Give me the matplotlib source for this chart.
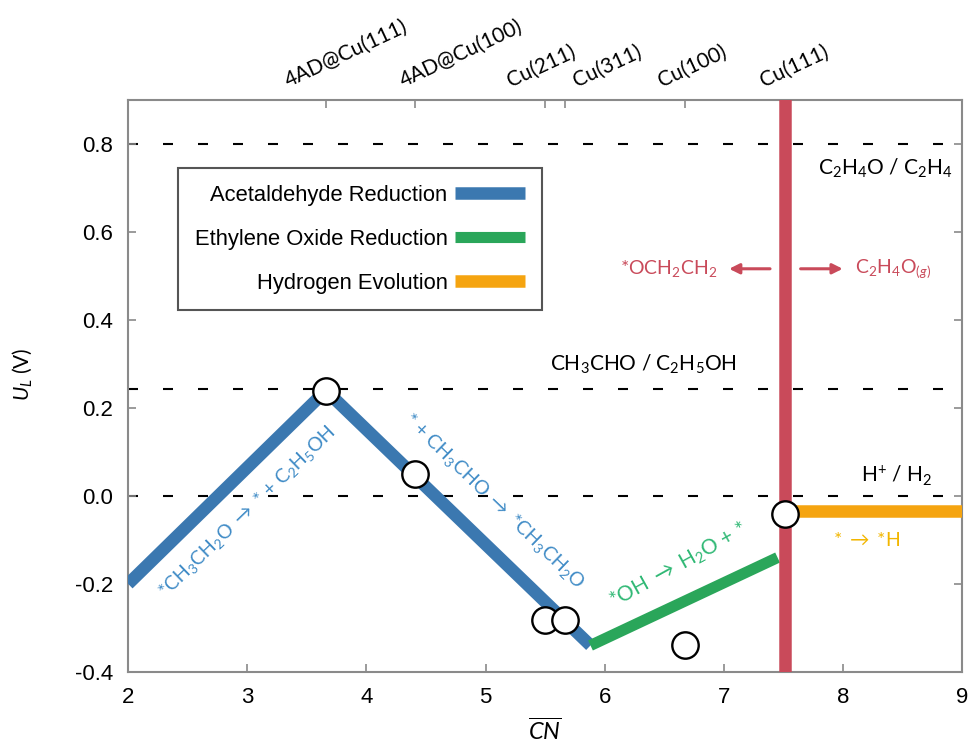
import matplotlib
matplotlib.use("Agg")
import matplotlib.pyplot as plt
from matplotlib.ticker import FormatStrFormatter

plt.rcParams["mathtext.fontset"] = "custom"
plt.rcParams["mathtext.rm"] = "Lato"
plt.rcParams["mathtext.it"] = "Lato:italic"
plt.rcParams["mathtext.bf"] = "Lato:bold"
plt.rcParams["mathtext.fallback"] = "stixsans"

# generalized coordination number of each surface and its limiting potential
surface_names = ["4AD@Cu(111)", "4AD@Cu(100)", "Cu(211)", "Cu(311)", "Cu(100)", "Cu(111)"]
surface_cn = [3.66, 4.41, 5.50, 5.67, 6.67, 7.51]
surface_ul = [0.24, 0.05, -0.283, -0.283, -0.34, -0.04]

# volcano branches
acetaldehyde_cn = [2.0, 3.66, 5.88]
acetaldehyde_ul = [-0.20, 0.24, -0.34]
oxide_cn = [5.88, 7.45]
oxide_ul = [-0.34, -0.14]
hydrogen_cn = [7.51, 9.0]
hydrogen_ul = [-0.035, -0.035]
oxide_boundary_cn = 7.51

# equilibrium potentials
eq_potentials = [0.80, 0.243, 0.0]

blue = "#3b78b0"
green = "#2aa65a"
orange = "#f5a410"
red = "#c94a5a"
frame_grey = "#8a8a8a"

# horizontal nudge (points) of each rotated surface name so neighbours don't collide
name_nudge = [-26, -7, -24, 9, -15, -14]

fig = plt.figure(figsize=(9.71, 7.44), dpi=100)
ax = fig.add_axes([0.132, 0.097, 0.859, 0.768])

for u in eq_potentials:
    ax.axhline(u, color="black", lw=1.5, dashes=(4.8, 12), zorder=1)

ax.plot(acetaldehyde_cn, acetaldehyde_ul, color=blue, lw=9, solid_capstyle="butt",
        solid_joinstyle="miter", label="Acetaldehyde Reduction", zorder=3)
ax.plot(oxide_cn, oxide_ul, color=green, lw=8, solid_capstyle="butt",
        label="Ethylene Oxide Reduction", zorder=3)
ax.plot(hydrogen_cn, hydrogen_ul, color=orange, lw=9, solid_capstyle="butt",
        label="Hydrogen Evolution", zorder=3)
ax.axvline(oxide_boundary_cn, color=red, lw=9, zorder=4)

ax.plot(surface_cn, surface_ul, "o", ms=19, mfc="white", mec="black", mew=1.7,
        ls="none", zorder=5)

# reaction labels along each branch
note = dict(fontfamily="Lato", ha="center", va="center")
ax.text(3.0, -0.035, r"*CH$_3$CH$_2$O $\rightarrow$ * + C$_2$H$_5$OH", color="#3f8bc6",
        rotation=44, fontsize=14, **note)
ax.text(5.07, -0.01, r"* + CH$_3$CHO $\rightarrow$ *CH$_3$CH$_2$O", color="#3f8bc6",
        rotation=-44, fontsize=14, **note)
ax.text(6.62, -0.158, r"*OH $\rightarrow$ H$_2$O + *", color="#2fb874", rotation=29,
        fontsize=15, **note)
ax.text(8.2, -0.10, r"* $\rightarrow$ *H", color="#f2b600", fontsize=14, **note)

ax.text(8.92, 0.745, r"C$_2$H$_4$O / C$_2$H$_4$", color="black", fontsize=15,
        fontfamily="Lato", ha="right", va="center")
ax.text(6.32, 0.30, r"CH$_3$CHO / C$_2$H$_5$OH", color="black", fontsize=15,
        fontfamily="Lato", ha="center", va="center")
ax.text(8.45, 0.045, r"H$^{+}$ / H$_2$", color="black", fontsize=15,
        fontfamily="Lato", ha="center", va="center")

ax.text(6.95, 0.517, r"*OCH$_2$CH$_2$", color=red, fontfamily="Lato", fontsize=14,
        ha="right", va="center")
ax.text(8.1, 0.517, r"C$_2$H$_4$O$_{(g)}$", color=red, fontfamily="Lato", fontsize=14,
        ha="left", va="center")
ax.annotate("", xy=(7.02, 0.517), xytext=(7.41, 0.517),
            arrowprops=dict(arrowstyle="-|>", color=red, lw=2.2, mutation_scale=15))
ax.annotate("", xy=(8.02, 0.517), xytext=(7.62, 0.517),
            arrowprops=dict(arrowstyle="-|>", color=red, lw=2.2, mutation_scale=15))

ax.set_xlim(2, 9)
ax.set_ylim(-0.4, 0.9)
ax.set_xticks(range(2, 10))
ax.set_yticks([-0.4, -0.2, 0.0, 0.2, 0.4, 0.6, 0.8])
ax.yaxis.set_major_formatter(FormatStrFormatter("%.1f"))
ax.tick_params(direction="in", length=6, width=1.2, color=frame_grey,
               labelsize=16, right=True, pad=11)
for lab in ax.get_xticklabels() + ax.get_yticklabels():
    lab.set_fontfamily("Liberation Sans")
for s in ax.spines.values():
    s.set_color(frame_grey)
    s.set_linewidth(1.5)

ax.set_xlabel(r"$\overline{CN}$", fontsize=17)
ax.xaxis.set_label_coords(0.5, -0.083)
ax.set_ylabel(r"$U_L$ (V)", fontsize=15, fontfamily="Lato")
ax.yaxis.set_label_coords(-0.113, 0.52)

# surface ticks along the top edge with rotated names
top = ax.secondary_xaxis("top")
top.set_xticks(surface_cn, labels=[""] * len(surface_cn))
top.tick_params(direction="in", length=6, width=1.2, color=frame_grey)
top.spines["top"].set_visible(False)
for cn, name, dx in zip(surface_cn, surface_names, name_nudge):
    ax.annotate(name, xy=(cn, 1.0), xycoords=ax.get_xaxis_transform(),
                xytext=(dx, 7), textcoords="offset points", rotation=25,
                rotation_mode="anchor", ha="left", va="bottom",
                fontfamily="Lato", fontsize=15)

leg = ax.legend(loc="upper left", bbox_to_anchor=(0.06, 0.881), borderaxespad=0,
                markerfirst=False, handlelength=3.2, handletextpad=0.35,
                labelspacing=1.05, borderpad=0.75, fancybox=False, framealpha=1,
                edgecolor="#555555", prop={"family": "Liberation Sans", "size": 15.8})
leg.get_frame().set_linewidth(1.5)

fig.savefig("out.png", dpi=100)
